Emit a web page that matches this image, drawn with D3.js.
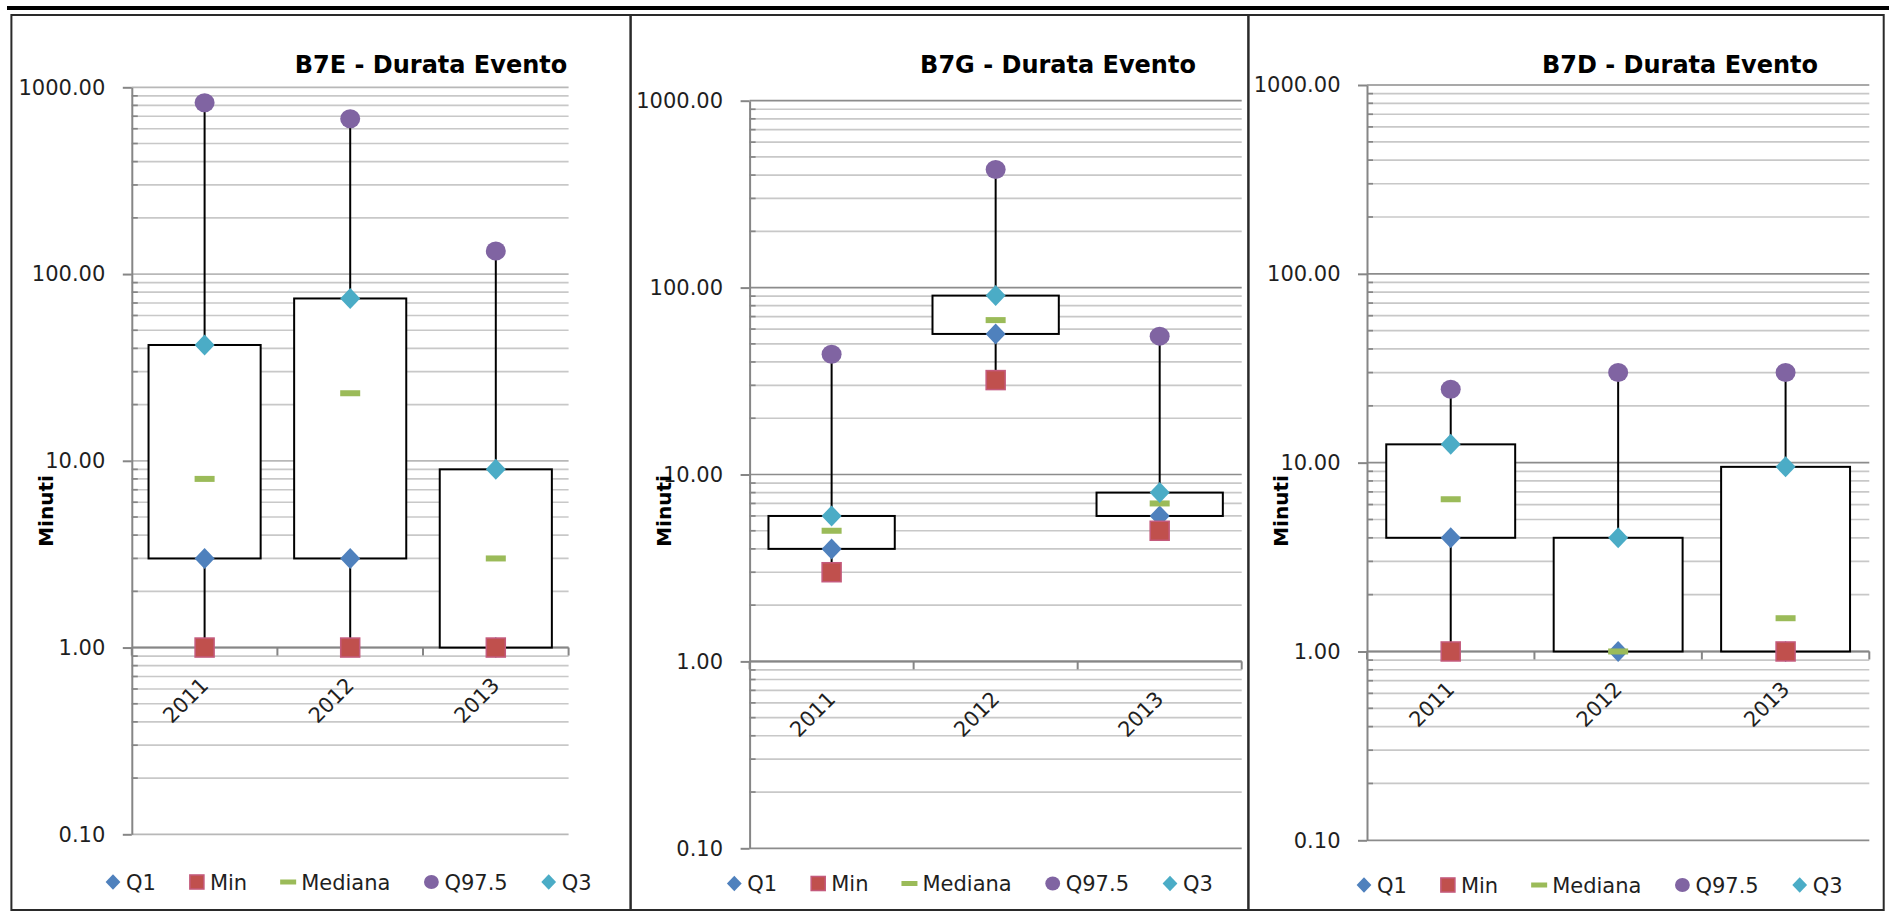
<!DOCTYPE html>
<html>
<head>
<meta charset="utf-8">
<script src="https://cdn.jsdelivr.net/npm/d3@7"></script>
<style>
  body { margin: 0; background: #fff; }
  svg { display: block; font-family: "DejaVu Sans", sans-serif; }
</style>
</head>
<body>
<svg width="1889" height="913"></svg>
<script>
const years = ['2011', '2012', '2013'];
const chartTitles = ['B7E - Durata Evento', 'B7G - Durata Evento', 'B7D - Durata Evento'];
const seriesNames = ['Q1', 'Min', 'Mediana', 'Q97.5', 'Q3'];
const yTickValues = [0.1, 1, 10, 100, 1000];
const yLabel = 'Minuti';

// one inner array per chart (B7E, B7G, B7D), one value per year
const q1Values = [[3, 3, 1], [4, 56.5, 6], [4, 1, 1]];
const minValues = [[1, 1, 1], [3, 32, 5], [1, null, 1]];
const medianValues = [[8, 23, 3], [5, 67, 7], [6.4, 1, 1.5]];
const q975Values = [[827, 679, 133], [44, 428, 55], [24.5, 30, 30]];
const q3Values = [[41.7, 74, 9], [6, 90.6, 8], [12.5, 4, 9.5]];

const seriesValues = [q1Values, minValues, medianValues, q975Values, q3Values];
const seriesColors = ['#4f81bd', '#c0504d', '#9bbb59', '#8064a2', '#4bacc6'];

// page layout of the three charts
const panels = [
  {left: 11.4, right: 630.6, axisX: 131.8, plotRight: 568.6, yTop: 87.3, yBottom: 834.3,
   titleX: 431, labelX: 53, legendX: 113, legendY: 882, majorGrid: '#b8b8b8'},
  {left: 630.6, right: 1248.4, axisX: 749.6, plotRight: 1241.7, yTop: 100.7, yBottom: 848.3,
   titleX: 1058, labelX: 671, legendX: 734.3, legendY: 883.5, majorGrid: '#8c8c8c'},
  {left: 1248.4, right: 1883.7, axisX: 1367, plotRight: 1869.3, yTop: 85, yBottom: 840.3,
   titleX: 1680, labelX: 1288, legendX: 1364, legendY: 885, majorGrid: '#8c8c8c'}
];

var svg = d3.select('svg');

// heavy rule along the top of the page
svg.append('rect')
  .attr('x', 7).attr('y', 6).attr('width', 1882).attr('height', 4)
  .attr('fill', '#000');

function drawMarker(g, si, cx, cy, s) {
  var color = seriesColors[si];
  if (si === 0 || si === 4) {
    var w = 10 * s, h = 10.5 * s;
    g.append('path')
      .attr('d', `M${cx},${cy - h}L${cx + w},${cy}L${cx},${cy + h}L${cx - w},${cy}Z`)
      .attr('fill', color);
  } else if (si === 1) {
    g.append('rect')
      .attr('x', cx - 9.5 * s).attr('y', cy - 9.5 * s)
      .attr('width', 19 * s).attr('height', 19 * s)
      .attr('fill', color)
      .attr('stroke', '#c45a7c').attr('stroke-width', 1.5);
  } else if (si === 2) {
    var mw = s < 1 ? 16 : 20, mh = s < 1 ? 5 : 6;
    g.append('rect')
      .attr('x', cx - mw / 2).attr('y', cy - mh / 2)
      .attr('width', mw).attr('height', mh)
      .attr('fill', color);
  } else {
    g.append('ellipse')
      .attr('cx', cx).attr('cy', cy)
      .attr('rx', 10 * s).attr('ry', 9.5 * s)
      .attr('fill', color);
  }
}

panels.forEach(function (p, pi) {
  var g = svg.append('g').attr('class', 'chart');

  g.append('rect')
    .attr('x', p.left).attr('y', 15)
    .attr('width', p.right - p.left).attr('height', 895)
    .attr('fill', 'none')
    .attr('stroke', '#2a2a2a').attr('stroke-width', 2);

  var x = d3.scaleBand().domain(years).range([p.axisX, p.plotRight]);
  var y = d3.scaleLog().domain([0.1, 1000]).range([p.yBottom, p.yTop]);
  var isMajor = v => Math.abs(Math.log10(v) - Math.round(Math.log10(v))) < 1e-6;

  // gridlines on every log tick
  g.append('g')
    .selectAll('line')
    .data(y.ticks())
    .enter()
    .append('line')
    .attr('x1', p.axisX).attr('x2', p.plotRight)
    .attr('y1', d => y(d)).attr('y2', d => y(d))
    .attr('stroke', d => isMajor(d) ? p.majorGrid : '#c8c8c8')
    .attr('stroke-width', 1.7);

  // minor tick marks inside the axis
  g.append('g')
    .selectAll('line')
    .data(y.ticks().filter(d => !isMajor(d)))
    .enter()
    .append('line')
    .attr('x1', p.axisX).attr('x2', p.axisX + 6)
    .attr('y1', d => y(d)).attr('y2', d => y(d))
    .attr('stroke', '#868686')
    .attr('stroke-width', 1.7);

  // horizontal axis crosses at 1.00
  var y1 = y(1);
  g.append('line')
    .attr('x1', p.axisX).attr('x2', p.plotRight)
    .attr('y1', y1).attr('y2', y1)
    .attr('stroke', '#868686').attr('stroke-width', 2);
  g.append('g')
    .selectAll('line')
    .data(years.map(d => x(d)).concat([p.plotRight]))
    .enter()
    .append('line')
    .attr('x1', d => d).attr('x2', d => d)
    .attr('y1', y1).attr('y2', y1 + 8)
    .attr('stroke', '#868686').attr('stroke-width', 2);

  g.append('g')
    .selectAll('text')
    .data(years)
    .enter()
    .append('text')
    .attr('transform', d => `translate(${x(d) + x.bandwidth() / 2 + 5},${y1 + 39}) rotate(-45)`)
    .attr('text-anchor', 'end')
    .attr('font-size', 21)
    .attr('fill', '#1f1f1f')
    .text(d => d);

  // vertical axis
  var yAxis = g.append('g')
    .attr('transform', `translate(${p.axisX},0)`)
    .call(d3.axisLeft(y)
      .tickValues(yTickValues)
      .tickFormat(d3.format('.2f'))
      .tickSizeInner(9)
      .tickSizeOuter(0)
      .tickPadding(17.5));
  yAxis.select('.domain').attr('stroke', '#868686').attr('stroke-width', 2);
  yAxis.selectAll('.tick line').attr('stroke', '#868686').attr('stroke-width', 2);
  yAxis.selectAll('.tick text')
    .attr('font-family', '"DejaVu Sans", sans-serif')
    .attr('font-size', 21)
    .attr('fill', '#1f1f1f');

  // boxes and whiskers
  var cx = d => x(d) + x.bandwidth() / 2;
  var boxW = x.bandwidth() * 0.77;
  var bg = g.append('g');
  years.forEach(function (yr, i) {
    var c = cx(yr);
    bg.append('line')
      .attr('x1', c).attr('x2', c)
      .attr('y1', y(q975Values[pi][i])).attr('y2', y(q3Values[pi][i]))
      .attr('stroke', '#000').attr('stroke-width', 2);
    if (minValues[pi][i] !== null) {
      bg.append('line')
        .attr('x1', c).attr('x2', c)
        .attr('y1', y(q1Values[pi][i])).attr('y2', y(minValues[pi][i]))
        .attr('stroke', '#000').attr('stroke-width', 2);
    }
    bg.append('rect')
      .attr('x', c - boxW / 2)
      .attr('y', y(q3Values[pi][i]))
      .attr('width', boxW)
      .attr('height', y(q1Values[pi][i]) - y(q3Values[pi][i]))
      .attr('fill', '#fff')
      .attr('stroke', '#000').attr('stroke-width', 2);
  });

  // markers, in legend order
  var mg = g.append('g');
  seriesValues.forEach(function (vals, si) {
    vals[pi].forEach(function (v, i) {
      if (v === null) return;
      drawMarker(mg, si, cx(years[i]), y(v), 1);
    });
  });

  g.append('text')
    .attr('x', p.titleX).attr('y', 73)
    .attr('text-anchor', 'middle')
    .attr('font-size', 24)
    .attr('font-weight', 'bold')
    .attr('fill', '#000')
    .text(chartTitles[pi]);

  g.append('text')
    .attr('transform', `translate(${p.labelX},511) rotate(-90)`)
    .attr('text-anchor', 'middle')
    .attr('font-size', 20)
    .attr('font-weight', 'bold')
    .attr('fill', '#000')
    .text(yLabel);

  // legend
  var lg = g.append('g');
  var pos = p.legendX;
  seriesNames.forEach(function (name, si) {
    drawMarker(lg, si, pos, p.legendY, 0.74);
    var t = lg.append('text')
      .attr('x', pos + 13).attr('y', p.legendY)
      .attr('dy', '0.36em')
      .attr('font-size', 21)
      .attr('fill', '#1f1f1f')
      .text(name);
    pos += 13 + t.node().getComputedTextLength() + 41;
  });
});
</script>
</body>
</html>
